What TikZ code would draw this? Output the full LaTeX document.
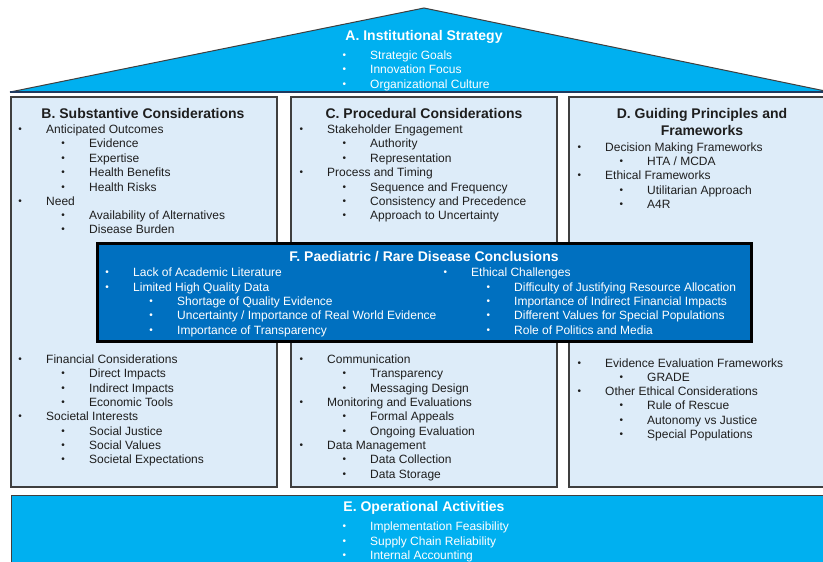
\documentclass[tikz,border=0pt]{standalone}
\usepackage{fontspec}
\setmainfont{Liberation Sans}

\definecolor{roofcyan}{HTML}{00B0F0}
\definecolor{panelblue}{HTML}{DDECF9}
\definecolor{concblue}{HTML}{0070C0}
\definecolor{edgegray}{HTML}{3F3F3F}
\definecolor{roofnavy}{HTML}{1F3A5F}
\definecolor{inkgray}{HTML}{1E1E1E}

\tikzset{
	roofbox/.style={fill=roofcyan, draw=edgegray, line width=1pt, line join=miter},
	panel/.style={fill=panelblue, draw=edgegray, line width=1.3pt},
	concbox/.style={fill=concblue, draw=black, line width=3pt},
	heading/.style={font=\bfseries\fontsize{14}{17}\selectfont, align=center, inner sep=0pt},
	item/.style={anchor=west, inner sep=0pt, text height=8pt, text depth=0pt,
		font=\fontsize{12}{14}\selectfont, text=#1,
		label={[text=#1, font=\fontsize{10}{10}\selectfont, inner sep=0pt,
			label distance=23.8pt, yshift=-1.6pt]left:\textbullet}},
	item/.default=inkgray,
}

\begin{document}
\begin{tikzpicture}[x=1pt,y=-1pt]
	\useasboundingbox (0,0) rectangle (823,562);
	\clip (0,0) rectangle (823,562);
	\fill[white] (0,0) rectangle (823,562);

	% A. INSTITUTIONAL STRATEGY
	\draw[roofbox] (10,92) -- (424,8) -- (830,92) -- cycle;
	\draw[roofnavy, line width=1.2pt] (10,92) -- (830,92);
	\node[heading, text=white] (ttlA) at (424,37) {A. Institutional Strategy};
	\node[item=white] (a1) at (370,55) {Strategic Goals};
	\node[item=white] (a2) at (370,69) {Innovation Focus};
	\node[item=white] (a3) at (370,84) {Organizational Culture};

	% B. SUBSTANTIVE CONSIDERATIONS
	\draw[panel] (11,97) rectangle (277,487);
	\node[heading, text=inkgray] (ttlB) at (143,113) {B. Substantive Considerations};
	\node[item] (b1) at (46,129) {Anticipated Outcomes};
	\node[item] (b2) at (89,143) {Evidence};
	\node[item] (b3) at (89,158) {Expertise};
	\node[item] (b4) at (89,172) {Health Benefits};
	\node[item] (b5) at (89,187) {Health Risks};
	\node[item] (b6) at (46,201) {Need};
	\node[item] (b7) at (89,215) {Availability of Alternatives};
	\node[item] (b8) at (89,229) {Disease Burden};
	\node[item] (b9) at (46,359) {Financial Considerations};
	\node[item] (b10) at (89,373) {Direct Impacts};
	\node[item] (b11) at (89,388) {Indirect Impacts};
	\node[item] (b12) at (89,402) {Economic Tools};
	\node[item] (b13) at (46,416) {Societal Interests};
	\node[item] (b14) at (89,431) {Social Justice};
	\node[item] (b15) at (89,445) {Social Values};
	\node[item] (b16) at (89,459) {Societal Expectations};

	% C. PROCEDURAL CONSIDERATIONS
	\draw[panel] (291,97) rectangle (557,487);
	\node[heading, text=inkgray] (ttlC) at (424,113) {C. Procedural Considerations};
	\node[item] (c1) at (327,129) {Stakeholder Engagement};
	\node[item] (c2) at (370,143) {Authority};
	\node[item] (c3) at (370,158) {Representation};
	\node[item] (c4) at (327,172) {Process and Timing};
	\node[item] (c5) at (370,187) {Sequence and Frequency};
	\node[item] (c6) at (370,201) {Consistency and Precedence};
	\node[item] (c7) at (370,215) {Approach to Uncertainty};
	\node[item] (c8) at (327,359) {Communication};
	\node[item] (c9) at (370,373) {Transparency};
	\node[item] (c10) at (370,388) {Messaging Design};
	\node[item] (c11) at (327,402) {Monitoring and Evaluations};
	\node[item] (c12) at (370,416) {Formal Appeals};
	\node[item] (c13) at (370,431) {Ongoing Evaluation};
	\node[item] (c14) at (327,445) {Data Management};
	\node[item] (c15) at (370,459) {Data Collection};
	\node[item] (c16) at (370,474) {Data Storage};

	% D. GUIDING PRINCIPLES AND FRAMEWORKS
	\draw[panel] (569,97) rectangle (830,487);
	\node[heading, text=inkgray] (ttlD) at (702,122) {D. Guiding Principles and\\Frameworks};
	\node[item] (d1) at (605,147) {Decision Making Frameworks};
	\node[item] (d2) at (647,161) {HTA / MCDA};
	\node[item] (d3) at (605,175) {Ethical Frameworks};
	\node[item] (d4) at (647,190) {Utilitarian Approach};
	\node[item] (d5) at (647,204) {A4R};
	\node[item] (d6) at (605,363) {Evidence Evaluation Frameworks};
	\node[item] (d7) at (647,377) {GRADE};
	\node[item] (d8) at (605,391) {Other Ethical Considerations};
	\node[item] (d9) at (647,405) {Rule of Rescue};
	\node[item] (d10) at (647,420) {Autonomy vs Justice};
	\node[item] (d11) at (647,434) {Special Populations};

	% E. OPERATIONAL ACTIVITIES
	\draw[roofbox] (11,495) rectangle (830,570);
	\node[heading, text=white] (ttlE) at (424,508) {E. Operational Activities};
	\node[item=white] (e1) at (370,526) {Implementation Feasibility};
	\node[item=white] (e2) at (370,541) {Supply Chain Reliability};
	\node[item=white] (e3) at (370,555) {Internal Accounting};

	% F. PAEDIATRIC / RARE DISEASE CONCLUSIONS
	\draw[concbox] (97,243) rectangle (751,341);
	\node[heading, text=white] (ttlF) at (424,257) {F. Paediatric / Rare Disease Conclusions};
	\node[item=white] (f1) at (133,272) {Lack of Academic Literature};
	\node[item=white] (f2) at (133,287) {Limited High Quality Data};
	\node[item=white] (f3) at (177,301) {Shortage of Quality Evidence};
	\node[item=white] (f4) at (177,315) {Uncertainty / Importance of Real World Evidence};
	\node[item=white] (f5) at (177,330) {Importance of Transparency};
	\node[item=white] (f6) at (471,272) {Ethical Challenges};
	\node[item=white] (f7) at (514,287) {Difficulty of Justifying Resource Allocation};
	\node[item=white] (f8) at (514,301) {Importance of Indirect Financial Impacts};
	\node[item=white] (f9) at (514,315) {Different Values for Special Populations};
	\node[item=white] (f10) at (514,330) {Role of Politics and Media};
\end{tikzpicture}
\end{document}
